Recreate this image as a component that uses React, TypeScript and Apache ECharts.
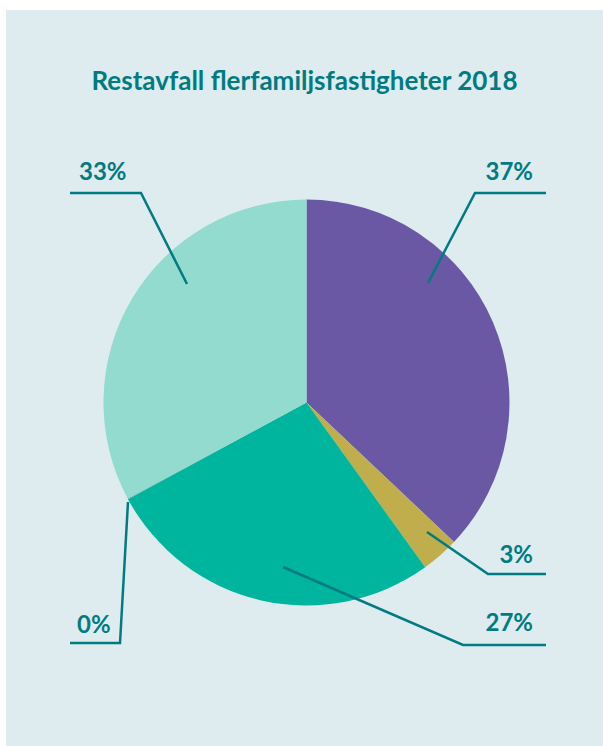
import React, { useEffect, useRef } from "react";
import * as echarts from "echarts";

const title = "Restavfall flerfamiljsfastigheter 2018";
const categories = ["A", "B", "C", "D", "E"];
const values = [37, 3, 27, 0.05, 32.8];
const colors = ["#6b58a5", "#bfae4b", "#00b59d", "#5fa9a8", "#93dacf"];

// label placement (chart pixel coords): text anchor, line start, elbow, end
const labelLayouts = [
  { tx: 527, ty: 160, align: "right", pts: [[422, 273], [469, 183], [540, 183]] },
  { tx: 527, ty: 543, align: "right", pts: [[421, 522], [482, 564], [540, 564]] },
  { tx: 527, ty: 611, align: "right", pts: [[277, 557], [457, 635], [540, 635]] },
  { tx: 71, ty: 613, align: "left", pts: [[122, 492], [114, 633], [64, 633]] },
  { tx: 73, ty: 160, align: "left", pts: [[181, 274], [135, 183], [64, 183]] },
];

export default function App() {
  const ref = useRef<HTMLDivElement>(null);
  useEffect(() => {
    if (!ref.current) return;
    const chart = echarts.init(ref.current, null, { renderer: "svg" });
    const pieBase = {
      type: "pie",
      center: [300.5, 392.5],
      radius: 203,
      startAngle: 90,
      clockwise: true,
      avoidLabelOverlap: false,
      emphasis: { disabled: true },
      silent: true,
    };
    chart.setOption({
      animation: false,
      backgroundColor: "#deebef",
      title: {
        text: title,
        left: "center",
        top: 52,
        textStyle: {
          fontFamily: "Lato",
          fontWeight: "bold",
          fontSize: 26,
          color: "#007b82",
        },
      },
      series: [
        {
          ...pieBase,
          z: 2,
          itemStyle: { borderWidth: 0 },
          data: categories.map((c, i) => ({
            name: c,
            value: values[i],
            itemStyle: { color: colors[i] },
          })),
          label: { show: false },
          labelLine: { show: false },
        },
        {
          ...pieBase,
          z: 3,
          itemStyle: { color: "rgba(0,0,0,0)", borderWidth: 0 },
          data: categories.map((c, i) => ({ name: c, value: values[i] })),
          label: {
            show: true,
            position: "outside",
            formatter: (p: any) => Math.round(p.value) + "%",
            fontFamily: "Lato",
            fontWeight: "bold",
            fontSize: 24,
            color: "#007b82",
          },
          labelLine: {
            show: true,
            length: 20,
            length2: 20,
            lineStyle: { color: "#007b82", width: 2.5 },
          },
          labelLayout: (params: any) => {
            const l = labelLayouts[params.dataIndex];
            return {
              x: l.tx,
              y: l.ty,
              align: l.align,
              verticalAlign: "middle",
              labelLinePoints: l.pts,
            };
          },
        },
      ],
    });
    return () => chart.dispose();
  }, []);
  return (
    <div style={{ position: "absolute", left: 0, top: 0, width: 603, height: 746, background: "#ffffff" }}>
      <div
        ref={ref}
        style={{ position: "absolute", left: 6, top: 10, width: 597, height: 736 }}
      />
    </div>
  );
}
